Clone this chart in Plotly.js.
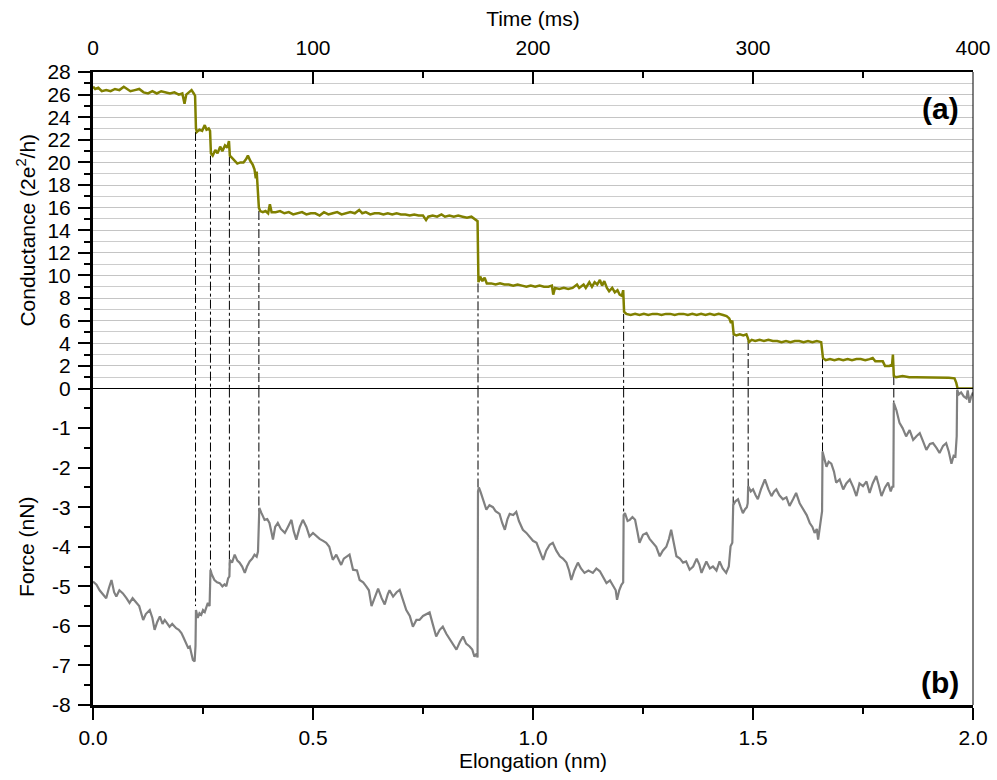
<!DOCTYPE html>
<html>
<head>
<meta charset="utf-8">
<script src="https://cdn.plot.ly/plotly-3.0.1.min.js"></script>
<style>html,body{margin:0;padding:0;background:#fff;}#chart{width:997px;height:780px;}</style>
</head>
<body>
<div id="chart"></div>
<script>
// Conductance trace (elongation nm, G in 2e^2/h)
const condX = [0.000,0.005,0.012,0.020,0.030,0.040,0.050,0.060,0.070,0.078,0.085,0.095,0.105,0.115,0.125,0.135,0.145,0.155,0.165,0.175,0.185,0.195,0.203,0.208,0.212,0.218,0.224,0.229,0.232,
0.234,0.236,0.242,0.248,0.254,0.258,0.263,0.266,
0.268,0.272,0.278,0.283,0.289,0.294,0.300,0.305,0.309,
0.311,0.316,0.322,0.328,0.335,0.342,0.348,0.352,0.358,0.363,0.367,0.370,0.372,0.374,
0.377,0.380,0.386,0.392,0.398,0.402,0.406,0.415,0.425,0.435,0.445,0.455,0.465,0.475,0.485,0.495,0.505,0.515,0.525,0.535,0.545,0.555,0.565,0.575,0.585,0.595,0.605,0.612,0.620,0.630,0.640,0.650,0.660,0.670,0.680,0.690,0.700,0.710,0.720,0.730,0.740,0.750,0.757,0.762,0.772,0.782,0.792,0.800,0.810,0.820,0.830,0.840,0.850,0.860,0.868,0.874,
0.876,0.880,0.885,0.890,0.895,0.905,0.915,0.925,0.935,0.945,0.955,0.965,0.975,0.985,0.995,1.005,1.015,1.025,1.035,1.043,1.046,1.050,1.060,1.070,1.080,1.090,1.100,1.105,1.115,1.120,1.128,1.134,1.140,1.146,1.152,1.157,1.162,1.168,1.173,1.180,1.186,1.192,1.197,1.202,1.205,
1.207,1.212,1.222,1.232,1.242,1.252,1.262,1.272,1.282,1.292,1.302,1.312,1.322,1.332,1.342,1.352,1.362,1.372,1.382,1.392,1.402,1.412,1.422,1.432,1.440,1.446,1.450,1.453,
1.456,1.462,1.470,1.478,1.485,1.488,
1.491,1.497,1.505,1.515,1.525,1.535,1.545,1.555,1.565,1.575,1.585,1.595,1.605,1.615,1.625,1.635,1.645,1.655,
1.659,1.665,1.675,1.685,1.695,1.705,1.715,1.725,1.735,1.745,1.755,1.765,1.772,1.778,1.788,1.795,1.800,1.810,1.816,1.818,
1.820,1.825,1.840,1.855,1.870,1.885,1.900,1.915,1.930,1.945,1.958,1.962,1.965,2.000];
const condY = [26.7,26.5,26.6,26.3,26.4,26.3,26.5,26.4,26.7,26.5,26.3,26.4,26.5,26.2,26.1,26.3,26.1,26.3,26.2,26.1,26.2,26.0,26.1,25.2,26.0,26.2,26.4,26.1,25.9,
23.0,22.7,22.9,22.8,23.3,22.9,23.0,22.8,
20.8,20.6,21.1,20.8,21.4,21.0,21.5,21.3,21.9,
20.6,20.4,20.1,19.9,20.0,20.0,20.3,20.6,20.1,19.8,19.4,18.6,19.2,17.4,
16.0,15.7,15.6,15.7,15.5,16.3,15.6,15.6,15.7,15.5,15.6,15.4,15.5,15.6,15.4,15.5,15.5,15.3,15.6,15.4,15.5,15.6,15.4,15.5,15.6,15.5,15.8,15.5,15.6,15.4,15.5,15.5,15.4,15.5,15.4,15.5,15.4,15.4,15.3,15.4,15.3,15.3,14.9,15.2,15.3,15.2,15.4,15.2,15.3,15.2,15.3,15.2,15.1,15.2,15.0,14.8,
9.4,9.9,9.5,9.8,9.3,9.3,9.2,9.3,9.2,9.2,9.1,9.2,9.1,9.0,9.1,9.0,9.1,9.0,9.0,9.1,8.3,8.9,8.8,8.9,8.8,8.9,9.2,8.9,9.2,8.9,9.4,9.0,9.4,9.2,9.6,9.1,9.5,8.9,8.6,8.9,8.5,8.7,8.3,8.2,8.7,
6.8,6.6,6.5,6.6,6.5,6.6,6.5,6.6,6.6,6.5,6.6,6.6,6.5,6.6,6.6,6.5,6.6,6.5,6.6,6.5,6.6,6.5,6.6,6.5,6.4,6.2,5.8,6.0,
4.8,4.7,4.8,4.7,4.8,4.5,
4.1,4.3,4.2,4.3,4.2,4.3,4.2,4.2,4.1,4.2,4.1,4.2,4.2,4.1,4.2,4.1,4.2,4.1,
2.7,2.5,2.6,2.5,2.6,2.5,2.6,2.5,2.6,2.6,2.5,2.6,2.7,2.4,2.4,2.4,2.0,2.0,2.1,3.0,
1.1,1.0,1.1,1.0,1.0,1.0,1.0,0.95,1.0,0.95,0.9,0.5,0.0,0.0];

// Force trace (elongation nm, F in nN)
const forceX = [0.000,0.008,0.015,0.023,0.030,0.036,0.042,0.048,0.053,0.060,0.068,0.076,0.083,0.090,0.098,0.105,0.114,0.120,0.129,0.135,0.140,0.146,0.152,0.158,0.163,0.170,0.174,0.180,0.189,0.195,0.201,0.206,0.212,0.216,0.220,0.224,0.227,0.231,0.233,
0.234,0.238,0.242,0.246,0.250,0.254,0.261,0.265,
0.267,0.270,0.276,0.282,0.288,0.294,0.299,0.303,0.307,0.310,
0.311,0.316,0.322,0.328,0.333,0.339,0.345,0.350,0.356,0.362,0.367,0.372,0.375,0.377,
0.378,0.383,0.390,0.396,0.401,0.405,0.409,0.414,0.420,0.427,0.436,0.443,0.451,0.456,0.462,0.470,0.477,0.485,0.492,0.500,0.508,0.515,0.523,0.530,0.537,0.545,0.553,0.564,0.570,0.583,0.591,0.600,0.606,0.614,0.621,0.627,0.633,0.640,0.648,0.656,0.663,0.670,0.674,0.682,0.690,0.697,0.704,0.712,0.720,0.727,0.735,0.742,0.750,0.758,0.765,0.772,0.780,0.788,0.795,0.803,0.811,0.818,0.826,0.834,0.841,0.848,0.856,0.862,0.867,0.872,0.874,
0.875,0.877,0.881,0.887,0.894,0.901,0.909,0.915,0.924,0.930,0.936,0.942,0.947,0.955,0.962,0.968,0.977,0.985,0.992,1.000,1.008,1.015,1.023,1.030,1.038,1.045,1.053,1.061,1.068,1.076,1.082,1.087,1.094,1.102,1.109,1.117,1.126,1.136,1.144,1.152,1.160,1.167,1.175,1.182,1.188,1.191,1.196,1.201,1.205,
1.206,1.209,1.215,1.220,1.226,1.232,1.237,1.242,1.250,1.258,1.265,1.273,1.280,1.288,1.295,1.303,1.309,1.314,1.320,1.326,1.334,1.341,1.348,1.356,1.364,1.372,1.378,1.383,1.389,1.394,1.402,1.409,1.417,1.424,1.431,1.439,1.445,1.449,1.453,
1.455,1.460,1.466,1.472,1.477,1.482,1.486,1.488,
1.489,1.495,1.500,1.506,1.511,1.518,1.527,1.535,1.542,1.548,1.553,1.560,1.568,1.576,1.583,1.591,1.598,1.606,1.614,1.622,1.629,1.635,1.640,1.645,1.648,1.652,1.654,1.657,
1.658,1.662,1.667,1.672,1.678,1.684,1.689,1.697,1.705,1.712,1.720,1.728,1.735,1.742,1.750,1.758,1.765,1.772,1.780,1.786,1.792,1.800,1.807,1.813,1.817,1.819,
1.820,1.826,1.833,1.840,1.848,1.856,1.864,1.872,1.879,1.887,1.894,1.902,1.909,1.917,1.924,1.932,1.939,1.945,1.951,1.956,1.960,1.963,
1.964,1.968,1.973,1.979,1.985,1.988,1.992,1.996,2.000];
const forceY = [-4.88,-4.96,-5.1,-5.2,-5.3,-5.05,-4.84,-5.15,-5.26,-5.1,-5.18,-5.3,-5.42,-5.3,-5.42,-5.5,-5.85,-5.7,-5.6,-5.8,-6.1,-5.9,-5.76,-5.95,-5.85,-5.95,-6.02,-5.95,-6.06,-6.1,-6.18,-6.3,-6.44,-6.55,-6.52,-6.75,-6.86,-6.9,-6.5,
-5.6,-5.8,-5.68,-5.72,-5.6,-5.65,-5.42,-5.5,
-4.58,-4.7,-4.84,-4.9,-4.92,-5.0,-4.95,-5.0,-4.8,-4.75,
-4.33,-4.4,-4.2,-4.35,-4.4,-4.5,-4.66,-4.5,-4.37,-4.3,-4.2,-4.25,-4.12,-3.5,
-3.02,-3.15,-3.32,-3.3,-3.4,-3.6,-3.82,-3.5,-3.4,-3.55,-3.65,-3.5,-3.32,-3.6,-3.82,-3.5,-3.32,-3.5,-3.74,-3.65,-3.74,-3.8,-3.85,-3.9,-4.0,-4.33,-4.2,-4.46,-4.3,-4.2,-4.58,-4.6,-4.84,-4.9,-5.0,-5.1,-5.5,-5.3,-5.06,-5.3,-5.46,-5.2,-5.1,-5.26,-5.15,-5.09,-5.35,-5.6,-5.75,-6.02,-5.85,-5.85,-5.75,-5.7,-5.66,-5.95,-6.27,-6.1,-6.02,-6.2,-6.35,-6.45,-6.6,-6.4,-6.27,-6.45,-6.52,-6.6,-6.78,-6.7,-6.8,
-2.6,-2.5,-2.62,-2.85,-3.06,-2.95,-3.0,-3.1,-3.17,-3.4,-3.57,-3.3,-3.17,-3.2,-3.12,-3.35,-3.57,-3.65,-3.74,-3.85,-3.9,-4.1,-4.33,-4.1,-3.95,-3.9,-4.1,-4.24,-4.3,-4.4,-4.6,-4.84,-4.6,-4.4,-4.55,-4.66,-4.6,-4.66,-4.55,-4.62,-4.8,-4.92,-4.85,-5.0,-5.1,-5.34,-5.1,-4.96,-4.9,
-3.2,-3.15,-3.35,-3.32,-3.25,-3.32,-3.6,-3.9,-3.7,-3.65,-3.8,-3.9,-4.0,-4.24,-4.1,-4.0,-3.8,-3.57,-3.9,-4.24,-4.3,-4.4,-4.37,-4.58,-4.5,-4.3,-4.45,-4.66,-4.5,-4.37,-4.55,-4.5,-4.6,-4.37,-4.55,-4.66,-4.5,-3.99,-3.9,
-2.95,-2.85,-2.8,-3.0,-3.15,-3.05,-3.0,-2.9,
-2.47,-2.6,-2.55,-2.7,-2.8,-2.55,-2.3,-2.55,-2.72,-2.6,-2.55,-2.7,-2.8,-2.75,-2.97,-2.8,-2.64,-2.9,-3.06,-3.2,-3.4,-3.5,-3.65,-3.55,-3.82,-3.5,-3.23,-3.1,
-1.59,-1.75,-1.98,-1.85,-1.9,-2.1,-2.38,-2.3,-2.55,-2.4,-2.3,-2.5,-2.72,-2.4,-2.47,-2.35,-2.64,-2.4,-2.21,-2.45,-2.72,-2.5,-2.38,-2.6,-2.47,-2.5,
-0.36,-0.55,-0.87,-1.0,-1.21,-1.05,-1.3,-1.2,-1.13,-1.35,-1.55,-1.4,-1.38,-1.5,-1.63,-1.45,-1.38,-1.6,-1.9,-1.7,-1.72,-1.2,
-0.03,-0.15,-0.1,-0.2,-0.25,-0.05,-0.36,-0.2,-0.1];

// Step positions linking conductance plateaus to force jumps
const stepX = [0.233, 0.267, 0.310, 0.377, 0.875, 1.206, 1.455, 1.489, 1.658, 1.820];
const stepG = [22.7, 20.6, 20.5, 15.7, 9.3, 6.6, 4.7, 4.2, 2.6, 1.1];
const stepF = [-5.5, -4.58, -4.6, -3.2, -2.5, -3.2, -2.95, -2.5, -1.6, -0.36];

// Tick labels
const condTicks = [0,2,4,6,8,10,12,14,16,18,20,22,24,26,28];
const forceTickVals = [-8,-7,-6,-5,-4,-3,-2,-1];
const forceTickText = ['-8','-7','-6','-5','-4','-3','-2','-1'];
const elongTicks = [0, 0.5, 1.0, 1.5, 2.0];
const elongTickText = ['0.0','0.5','1.0','1.5','2.0'];
const timeTicks = [0, 100, 200, 300, 400];

const dashTopX = [], dashTopY = [], dashBotX = [], dashBotY = [];
stepX.forEach((x, i) => {
  dashTopX.push(x, x, null); dashTopY.push(stepG[i], 0, null);
  dashBotX.push(x, x, null); dashBotY.push(0, stepF[i], null);
});

const FONT = 'Arial, "Liberation Sans", sans-serif';
const FS = 21;
const traces = [
  {x: dashTopX, y: dashTopY, xaxis: 'x', yaxis: 'y', mode: 'lines', line: {color: '#000', width: 1, dash: 'dashdot'}, hoverinfo: 'skip'},
  {x: dashBotX, y: dashBotY, xaxis: 'x', yaxis: 'y2', mode: 'lines', line: {color: '#000', width: 1, dash: 'dashdot'}, hoverinfo: 'skip'},
  {x: condX, y: condY, xaxis: 'x', yaxis: 'y', mode: 'lines', line: {color: '#808000', width: 2.5}},
  {x: forceX, y: forceY, xaxis: 'x', yaxis: 'y2', mode: 'lines', line: {color: '#808080', width: 2.2}},
  {x: [0, 400], y: [null, null], xaxis: 'x2', yaxis: 'y', mode: 'lines', hoverinfo: 'skip'}
];

const layout = {
  width: 997, height: 780,
  margin: {l: 93, r: 24, t: 72, b: 75},
  paper_bgcolor: '#fff', plot_bgcolor: '#fff',
  showlegend: false,
  font: {family: FONT, size: FS, color: '#000'},
  xaxis: {
    anchor: 'y2', domain: [0, 1], range: [0, 2],
    tickmode: 'array', tickvals: elongTicks, ticktext: elongTickText,
    ticks: 'outside', ticklen: 12, tickwidth: 2, tickcolor: '#000',
    minor: {dtick: 0.25, ticks: 'outside', ticklen: 6, tickwidth: 2, tickcolor: '#000', showgrid: false},
    showline: true, linewidth: 2.5, linecolor: '#000',
    showgrid: false, zeroline: false,
    tickfont: {size: FS},
    title: {text: 'Elongation (nm)', font: {size: FS}, standoff: 4}
  },
  xaxis2: {
    overlaying: 'x', side: 'top', anchor: 'y', range: [0, 400],
    tickmode: 'array', tickvals: timeTicks,
    ticks: 'inside', ticklen: 12, tickwidth: 2, tickcolor: '#000',
    minor: {dtick: 50, ticks: 'inside', ticklen: 6, tickwidth: 2, tickcolor: '#000', showgrid: false},
    showline: true, linewidth: 2.5, linecolor: '#000',
    showgrid: false, zeroline: false,
    ticklabelstandoff: 6,
    tickfont: {size: FS},
    title: {text: 'Time (ms)', font: {size: FS}, standoff: 4}
  },
  yaxis: {
    domain: [0.5, 1], range: [0, 28], anchor: 'x',
    tickmode: 'array', tickvals: condTicks,
    ticks: 'outside', ticklen: 12, tickwidth: 2, tickcolor: '#000',
    minor: {dtick: 1, ticks: 'outside', ticklen: 6, tickwidth: 2, tickcolor: '#000', showgrid: true, gridcolor: '#cccccc', gridwidth: 1},
    showgrid: true, gridcolor: '#c4c4c4', gridwidth: 1,
    showline: true, linewidth: 3, linecolor: '#000',
    zeroline: false,
    ticklabelstandoff: 3,
    tickfont: {size: FS},
    title: {text: 'Conductance (2e<sup>2</sup>/h)', font: {size: FS}, standoff: 7}
  },
  yaxis2: {
    domain: [0, 0.5], range: [-8, 0], anchor: 'x',
    tickmode: 'array', tickvals: forceTickVals, ticktext: forceTickText,
    ticks: 'outside', ticklen: 12, tickwidth: 2, tickcolor: '#000',
    minor: {dtick: 0.5, ticks: 'outside', ticklen: 6, tickwidth: 2, tickcolor: '#000', showgrid: false},
    showgrid: false,
    showline: true, linewidth: 3, linecolor: '#000',
    zeroline: true, zerolinecolor: '#000', zerolinewidth: 1.5,
    ticklabelstandoff: 3,
    tickfont: {size: FS},
    title: {text: 'Force (nN)', font: {size: FS}, standoff: 12}
  },
  shapes: [
    {type: 'line', xref: 'paper', yref: 'paper', x0: 1, x1: 1, y0: 0, y1: 1, line: {color: '#000', width: 1}}
  ],
  annotations: [
    {text: '<b>(a)</b>', xref: 'paper', yref: 'paper', x: 0.986, y: 0.943, xanchor: 'right', yanchor: 'middle', showarrow: false, font: {size: 30, family: FONT}},
    {text: '<b>(b)</b>', xref: 'paper', yref: 'paper', x: 0.986, y: 0.035, xanchor: 'right', yanchor: 'middle', showarrow: false, font: {size: 30, family: FONT}}
  ]
};

Plotly.newPlot('chart', traces, layout, {displayModeBar: false, staticPlot: true});
</script>
</body>
</html>
